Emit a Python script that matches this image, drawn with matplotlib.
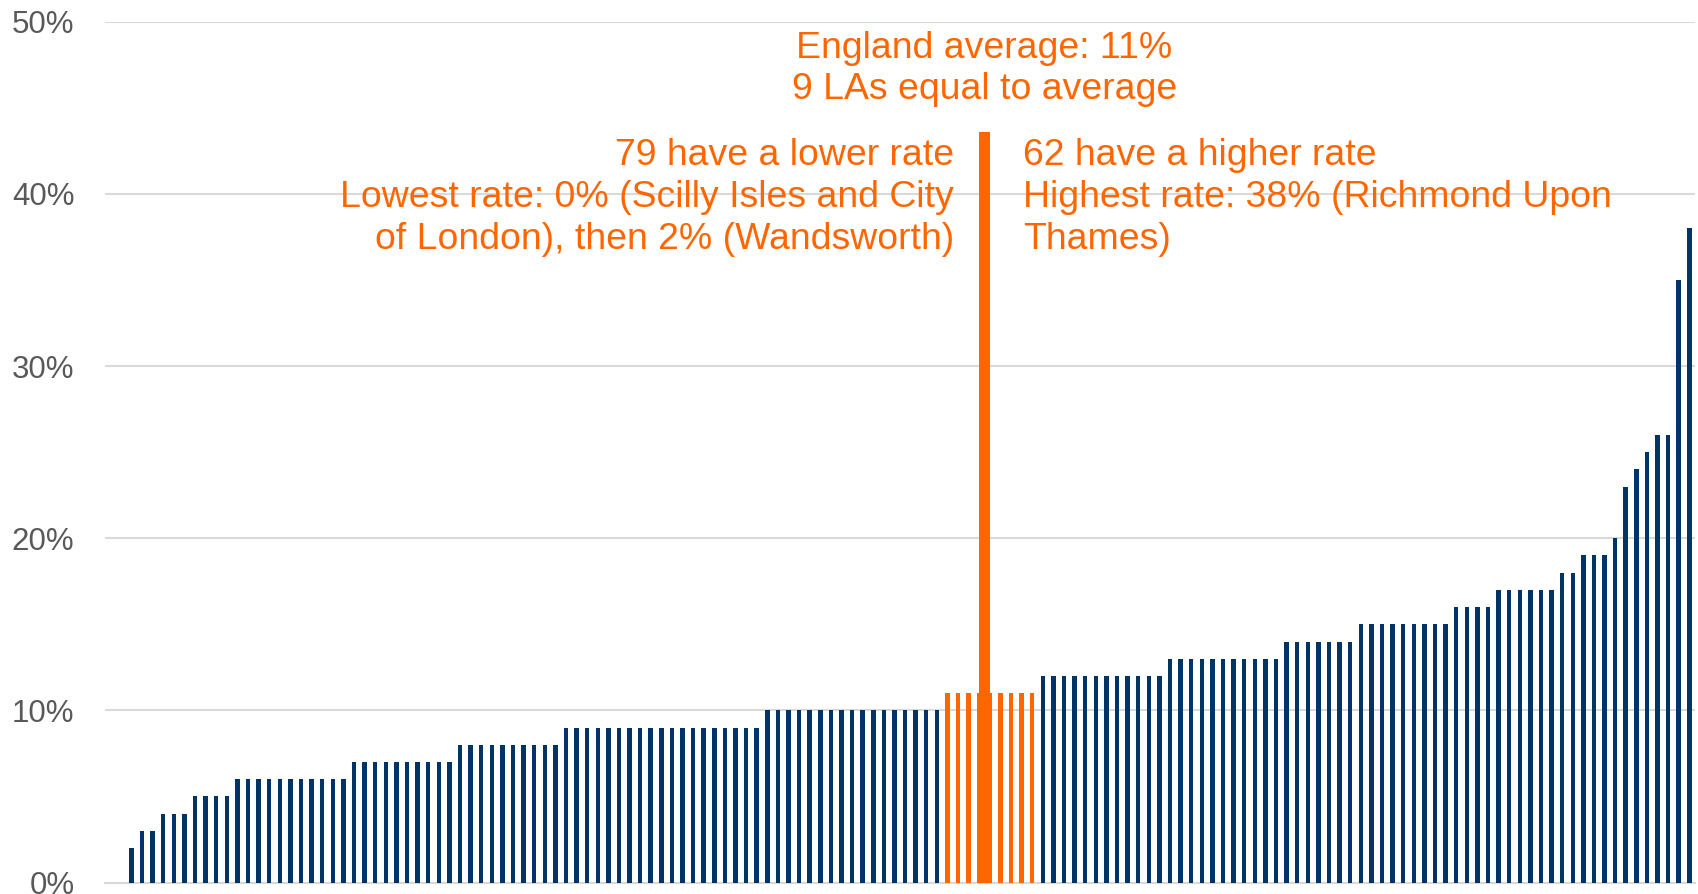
import numpy as np
import matplotlib.pyplot as plt

# rates (%) per local authority, sorted low to high
lower_rates = [0, 0, 2, 3, 3, 4, 4, 4, 5, 5, 5, 5,
               6, 6, 6, 6, 6, 6, 6, 6, 6, 6, 6,
               7, 7, 7, 7, 7, 7, 7, 7, 7, 7,
               8, 8, 8, 8, 8, 8, 8, 8, 8, 8,
               9, 9, 9, 9, 9, 9, 9, 9, 9, 9, 9, 9, 9, 9, 9, 9, 9, 9, 9,
               10, 10, 10, 10, 10, 10, 10, 10, 10, 10, 10, 10, 10, 10, 10, 10, 10]
equal_rates = [11, 11, 11, 11, 11, 11, 11, 11, 11]
higher_rates = [12, 12, 12, 12, 12, 12, 12, 12, 12, 12, 12, 12,
                13, 13, 13, 13, 13, 13, 13, 13, 13, 13, 13,
                14, 14, 14, 14, 14, 14, 14,
                15, 15, 15, 15, 15, 15, 15, 15, 15,
                16, 16, 16, 16,
                17, 17, 17, 17, 17, 17,
                18, 18, 19, 19, 19, 20, 23, 24, 25, 26, 26, 35, 38]
average_marker = 43.6
y_ticks = [0, 10, 20, 30, 40, 50]

navy = '#003366'
orange = '#FF6600'

rates = lower_rates + equal_rates + higher_rates
colors = [navy] * len(lower_rates) + [orange] * len(equal_rates) + [navy] * len(higher_rates)
x = np.arange(len(rates))

plt.rcParams['font.family'] = ['Liberation Sans', 'DejaVu Sans']

fig = plt.figure(figsize=(16.98, 8.94), dpi=100)
ax = fig.add_axes([0.0618, 0.0128, 0.9362, 0.9629])

ax.bar(x, rates, width=0.42, color=colors, zorder=3)

# thick marker for the England average, between the two middle "equal" bars
mid = len(lower_rates) + (len(equal_rates) - 1) / 2 - 0.5
ax.bar(mid, average_marker, width=1.1, color=orange, zorder=4)

ax.set_xlim(-0.5, len(rates) - 0.5)
ax.set_ylim(0, 50)
ax.set_xticks([])
ax.set_yticks(y_ticks)
ax.set_yticklabels([f'{t}%' for t in y_ticks])
ax.tick_params(axis='y', length=0, pad=22, labelsize=22.5, labelcolor='#595959')
ax.grid(axis='y', color='#d9d9d9', linewidth=1.5, zorder=0)
for s in ['top', 'right', 'left']:
    ax.spines[s].set_visible(False)
ax.spines['bottom'].set_color('#d9d9d9')
ax.spines['bottom'].set_linewidth(1.5)

fs = 26.9
ax.text(mid, 47.25, 'England average: 11%\n9 LAs equal to average',
        ha='center', va='center', color=orange, fontsize=fs, linespacing=1.25)
ax.text(79.6, 39.8, '79 have a lower rate\nLowest rate: 0% (Scilly Isles and City\nof London), then 2% (Wandsworth)',
        ha='right', va='center', color=orange, fontsize=fs, linespacing=1.25, multialignment='right')
ax.text(86.1, 39.8, '62 have a higher rate\nHighest rate: 38% (Richmond Upon\nThames)',
        ha='left', va='center', color=orange, fontsize=fs, linespacing=1.25)

fig.savefig('out.png', dpi=100)
